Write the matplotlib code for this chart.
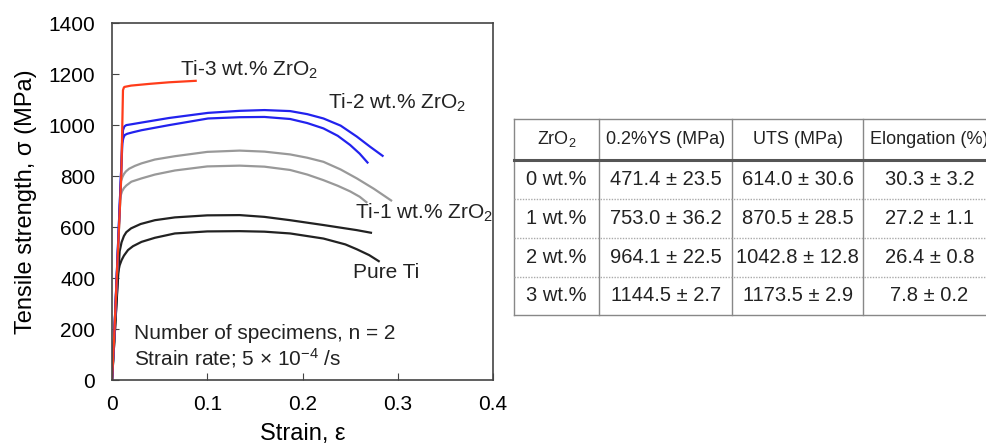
import matplotlib
matplotlib.use("Agg")
from matplotlib import pyplot as plt

plt.rcParams['font.family'] = ['Liberation Sans', 'DejaVu Sans']
plt.rcParams['mathtext.fontset'] = 'custom'
plt.rcParams['mathtext.rm'] = 'Liberation Sans'
plt.rcParams['mathtext.it'] = 'Liberation Sans:italic'

# stress-strain curves (strain, MPa)
pure_a_strain = [0, 0.003, 0.0066, 0.008, 0.010, 0.0125, 0.015, 0.02, 0.03, 0.045, 0.066, 0.1, 0.134, 0.16, 0.187, 0.222, 0.257, 0.273]
pure_a_stress = [0, 190, 420, 505, 540, 565, 580, 595, 612, 627, 638, 646, 647, 640, 627, 608, 588, 577]
pure_b_strain = [0, 0.003, 0.0063, 0.008, 0.010, 0.0125, 0.0168, 0.022, 0.031, 0.045, 0.066, 0.1, 0.134, 0.16, 0.187, 0.222, 0.245, 0.257, 0.27, 0.281]
pure_b_stress = [0, 190, 420, 450, 470, 488, 510, 525, 542, 558, 575, 583, 584, 582, 575, 555, 532, 513, 490, 464]

ti1_a_strain = [0, 0.0021, 0.0095, 0.011, 0.0125, 0.0145, 0.018, 0.024, 0.031, 0.045, 0.066, 0.1, 0.134, 0.16, 0.187, 0.205, 0.222, 0.24, 0.257, 0.275, 0.294]
ti1_a_stress = [0, 157, 780, 797, 808, 818, 829, 840, 850, 865, 878, 895, 900, 896, 885, 872, 856, 826, 791, 750, 702]
ti1_b_strain = [0, 0.0021, 0.0088, 0.0105, 0.0125, 0.015, 0.0203, 0.031, 0.045, 0.066, 0.1, 0.134, 0.16, 0.187, 0.205, 0.222, 0.237, 0.25, 0.26, 0.268]
ti1_b_stress = [0, 157, 720, 740, 753, 763, 778, 791, 806, 822, 838, 841, 837, 824, 806, 784, 762, 740, 719, 695]

ti2_a_strain = [0, 0.0021, 0.0098, 0.0115, 0.013, 0.015, 0.02, 0.031, 0.06, 0.1008, 0.134, 0.16, 0.187, 0.205, 0.222, 0.24, 0.257, 0.271, 0.285]
ti2_a_stress = [0, 157, 840, 980, 995, 1000, 1003, 1010, 1028, 1048, 1056, 1059, 1055, 1043, 1026, 998, 955, 915, 877]
ti2_b_strain = [0, 0.0021, 0.0098, 0.0105, 0.012, 0.0133, 0.016, 0.022, 0.031, 0.06, 0.1008, 0.134, 0.16, 0.187, 0.205, 0.222, 0.237, 0.25, 0.26, 0.269]
ti2_b_stress = [0, 157, 840, 928, 950, 961, 966, 972, 980, 1000, 1026, 1031, 1032, 1024, 1008, 987, 958, 922, 888, 850]

ti3_strain = [0, 0.0021, 0.0098, 0.0115, 0.0125, 0.0133, 0.016, 0.02, 0.04, 0.06, 0.089]
ti3_stress = [0, 157, 810, 1137, 1148, 1150, 1152, 1155, 1162, 1168, 1174]

# table
col_heads = ["ZrO$_2$", "0.2%YS (MPa)", "UTS (MPa)", "Elongation (%)"]
row_heads = ["0 wt.%", "1 wt.%", "2 wt.%", "3 wt.%"]
ys_vals = ["471.4", "753.0", "964.1", "1144.5"]
ys_err = ["23.5", "36.2", "22.5", "2.7"]
uts_vals = ["614.0", "870.5", "1042.8", "1173.5"]
uts_err = ["30.6", "28.5", "12.8", "2.9"]
el_vals = ["30.3", "27.2", "26.4", "7.8"]
el_err = ["3.2", "1.1", "0.8", "0.2"]

fig = plt.figure(figsize=(9.87, 4.45), dpi=100)
ax = fig.add_axes([0.1135, 0.146, 0.386, 0.802])

lw = 1.6
kw = dict(lw=lw, solid_joinstyle="round", solid_capstyle="butt")
ax.plot(pure_a_strain, pure_a_stress, color="#222222", **kw)
ax.plot(pure_b_strain, pure_b_stress, color="#222222", **kw)
ax.plot(ti1_a_strain, ti1_a_stress, color="#999999", **kw)
ax.plot(ti1_b_strain, ti1_b_stress, color="#999999", **kw)
ax.plot(ti2_a_strain, ti2_a_stress, color="#2222ee", **kw)
ax.plot(ti2_b_strain, ti2_b_stress, color="#2222ee", **kw)
ax.plot(ti3_strain, ti3_stress, color="#ff3c1a", **kw)

ax.set_xlim(0, 0.4)
ax.set_ylim(0, 1400)
ax.set_xticks([0, 0.1, 0.2, 0.3, 0.4])
ax.set_xticklabels(["0", "0.1", "0.2", "0.3", "0.4"])
ax.set_yticks(range(0, 1401, 200))
ax.tick_params(direction="in", labelsize=15, length=5, color="#444444")
ax.tick_params(axis="x", pad=11)
ax.tick_params(axis="y", pad=12)
for s in ax.spines.values():
    s.set_color("#444444")
    s.set_linewidth(1.2)
ax.set_xlabel("Strain, ε", fontsize=17, labelpad=6)
ax.set_ylabel("Tensile strength, σ (MPa)", fontsize=17, labelpad=8)

tk = dict(fontsize=15, color="#222222", va="center")
ax.text(0.0714, 1216, "Ti-3 wt.% ZrO$_2$", **tk)
ax.text(0.227, 1086, "Ti-2 wt.% ZrO$_2$", **tk)
ax.text(0.255, 655, "Ti-1 wt.% ZrO$_2$", **tk)
ax.text(0.253, 421, "Pure Ti", **tk)
ax.text(0.023, 184, "Number of specimens, n = 2", **tk)
ax.text(0.023, 86, "Strain rate; 5 $\\times$ 10$^{-4}$ /s", **tk)

# table drawn by hand
tab = fig.add_axes([0.5208, 0.2921, 0.4875, 0.4405])
tab.set_xlim(0, 1)
tab.set_ylim(1, 0)
tab.axis("off")
xs = [0, 0.1774, 0.4526, 0.7262, 1.0]
ys = [0, 0.209, 0.408, 0.606, 0.805, 1.0]
gray = "#888888"
for x in xs:
    tab.plot([x, x], [0, 1], color=gray, lw=1.0, clip_on=False)
tab.plot([0, 1], [0, 0], color=gray, lw=1.0, clip_on=False)
tab.plot([0, 1], [1, 1], color=gray, lw=1.0, clip_on=False)
tab.plot([0, 1], [ys[1], ys[1]], color="#555555", lw=2.2, clip_on=False)
for y in ys[2:5]:
    tab.plot([0, 1], [y, y], color="#aaaaaa", lw=1.0, ls=(0, (1, 1)), clip_on=False)

cx = [(xs[i] + xs[i + 1]) / 2 for i in range(4)]
for i, h in enumerate(col_heads):
    tab.text(cx[i], (ys[0] + ys[1]) / 2, h, fontsize=13, ha="center", va="center", color="#222222")
for r in range(4):
    yc = (ys[r + 1] + ys[r + 2]) / 2
    cells = [row_heads[r],
             ys_vals[r] + " ± " + ys_err[r],
             uts_vals[r] + " ± " + uts_err[r],
             el_vals[r] + " ± " + el_err[r]]
    for i, c in enumerate(cells):
        tab.text(cx[i], yc, c, fontsize=14.5, ha="center", va="center", color="#222222")

fig.savefig("out.png", dpi=100)
